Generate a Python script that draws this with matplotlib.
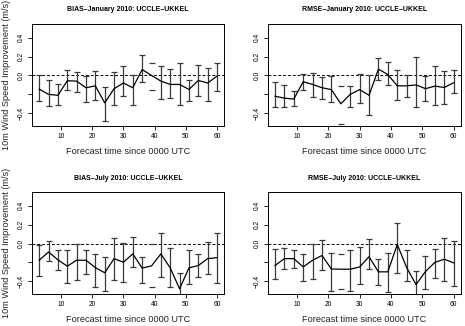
import numpy as np
import matplotlib.pyplot as plt

plt.rcParams["font.family"] = ["Liberation Sans", "DejaVu Sans"]

# forecast lead times (hours)
hours = list(range(3, 61, 3))

# BIAS - January 2010
bias_jan = [-0.145, -0.20, -0.21, -0.056, -0.06, -0.13, -0.11, -0.29, -0.14, -0.08,
            -0.13, 0.063, 0.00, -0.06, -0.095, -0.095, -0.148, -0.053, -0.08, -0.007]
bias_jan_hi = [0.0, -0.05, -0.09, 0.056, 0.035, -0.007, 0.05, -0.12, 0.04, 0.10,
               0.01, 0.215, 0.137, 0.105, 0.067, 0.137, -0.046, 0.11, 0.077, 0.134]
bias_jan_lo = [-0.27, -0.32, -0.31, -0.15, -0.17, -0.28, -0.26, -0.48, -0.31, -0.22,
               -0.31, -0.074, -0.15, -0.245, -0.243, -0.31, -0.27, -0.215, -0.27, -0.165]
bias_jan_caps_only = [39]

# RMSE - January 2010
rmse_jan = [-0.22, -0.24, -0.25, -0.067, -0.095, -0.13, -0.15, -0.30, -0.20, -0.15,
            -0.21, 0.067, 0.01, -0.11, -0.11, -0.10, -0.14, -0.113, -0.127, -0.077]
rmse_jan_hi = [-0.074, -0.10, -0.16, 0.018, 0.025, -0.018, -0.004, -0.113, -0.116, 0.02,
               0.0, 0.19, 0.14, 0.053, 0.007, 0.20, -0.004, 0.105, 0.046, 0.053]
rmse_jan_lo = [-0.33, -0.335, -0.32, -0.15, -0.23, -0.25, -0.28, -0.514, -0.335, -0.29,
               -0.42, -0.053, -0.10, -0.257, -0.23, -0.335, -0.27, -0.31, -0.30, -0.19]
rmse_jan_caps_only = [24]

# BIAS - July 2010
bias_jul = [-0.177, -0.09, -0.173, -0.24, -0.177, -0.177, -0.255, -0.31, -0.16, -0.198,
            -0.11, -0.26, -0.237, -0.11, -0.258, -0.48, -0.258, -0.233, -0.16, -0.15]
bias_jul_hi = [-0.02, 0.028, -0.064, -0.067, -0.004, -0.064, -0.106, -0.145, 0.053, 0.01,
               0.074, -0.138, -0.01, 0.106, -0.046, -0.31, -0.07, -0.106, 0.014, 0.106]
bias_jul_lo = [-0.34, -0.184, -0.283, -0.418, -0.39, -0.32, -0.46, -0.506, -0.39, -0.41,
               -0.248, -0.418, -0.457, -0.35, -0.46, -0.58, -0.43, -0.354, -0.326, -0.418]
bias_jul_caps_only = [39]

# RMSE - July 2010
rmse_jul = [-0.233, -0.16, -0.16, -0.248, -0.177, -0.127, -0.27, -0.272, -0.272, -0.248,
            -0.14, -0.30, -0.30, -0.01, -0.255, -0.435, -0.297, -0.20, -0.166, -0.205]
rmse_jul_hi = [-0.057, -0.046, -0.064, -0.113, -0.007, 0.032, -0.10, -0.11, -0.064, -0.035,
               0.05, -0.166, -0.10, 0.212, -0.07, -0.287, -0.13, -0.057, 0.053, 0.028]
rmse_jul_lo = [-0.38, -0.27, -0.258, -0.40, -0.38, -0.283, -0.506, -0.485, -0.506, -0.425,
               -0.272, -0.435, -0.51, -0.308, -0.40, -0.58, -0.48, -0.36, -0.40, -0.446]
rmse_jul_caps_only = [24]

titles = ["BIAS\u2013January 2010: UCCLE\u2013UKKEL", "RMSE\u2013January 2010: UCCLE\u2013UKKEL",
          "BIAS\u2013July 2010: UCCLE\u2013UKKEL", "RMSE\u2013July 2010: UCCLE\u2013UKKEL"]

panels = [
    (bias_jan, bias_jan_hi, bias_jan_lo, bias_jan_caps_only),
    (rmse_jan, rmse_jan_hi, rmse_jan_lo, rmse_jan_caps_only),
    (bias_jul, bias_jul_hi, bias_jul_lo, bias_jul_caps_only),
    (rmse_jul, rmse_jul_hi, rmse_jul_lo, rmse_jul_caps_only),
]

# axes rectangles [left, bottom, width, height] in figure fraction
rects = [
    [0.069, 0.6135, 0.413, 0.313],
    [0.576, 0.6135, 0.415, 0.313],
    [0.069, 0.098, 0.413, 0.313],
    [0.576, 0.098, 0.415, 0.313],
]

fig = plt.figure(figsize=(4.65, 3.26), dpi=100)

for i, (vals, hi, lo, caps_only) in enumerate(panels):
    ax = fig.add_axes(rects[i])
    x = np.array(hours)
    v = np.array(vals)
    h = np.array(hi)
    l = np.array(lo)
    full = np.array([t not in caps_only for t in hours])

    ax.axhline(0, color="black", linestyle=(0, (3, 2)), linewidth=0.7)
    ax.errorbar(x[full], v[full], yerr=[v[full] - l[full], h[full] - v[full]],
                fmt="none", ecolor="#3a3a3a", elinewidth=0.9, capsize=2, capthick=0.9)
    # bars whose stems were not drawn, only the end caps
    ax.plot(x[~full], h[~full], linestyle="none", marker="_", color="#3a3a3a",
            markersize=4, markeredgewidth=0.9)
    ax.plot(x[~full], l[~full], linestyle="none", marker="_", color="#3a3a3a",
            markersize=4, markeredgewidth=0.9)
    ax.plot(x, v, color="black", linewidth=0.9)

    ax.set_xlim(0.72, 62.28)
    ax.set_ylim(-0.535, 0.545)
    ax.set_xticks([10, 20, 30, 40, 50, 60])
    ax.set_yticks([-0.4, -0.2, 0.0, 0.2, 0.4])
    ax.set_yticklabels(["\u22120.4", "", "0.0", "0.2", "0.4"])
    ax.tick_params(direction="out", length=3, width=0.6, labelsize=4.8, pad=2)
    for lab in ax.get_yticklabels():
        lab.set_rotation(90)
        lab.set_va("center")
    for s in ax.spines.values():
        s.set_linewidth(0.7)

    ax.set_title(titles[i], fontsize=5, fontweight="bold", pad=9)
    ax.set_xlabel("Forecast time since 0000 UTC", fontsize=6.6, labelpad=5, color="#222222")
    if i % 2 == 0:
        ax.set_ylabel("10m Wind Speed Improvement (m/s)", fontsize=6.6, labelpad=5,
                      color="#222222")

fig.savefig("out.png", dpi=100)
